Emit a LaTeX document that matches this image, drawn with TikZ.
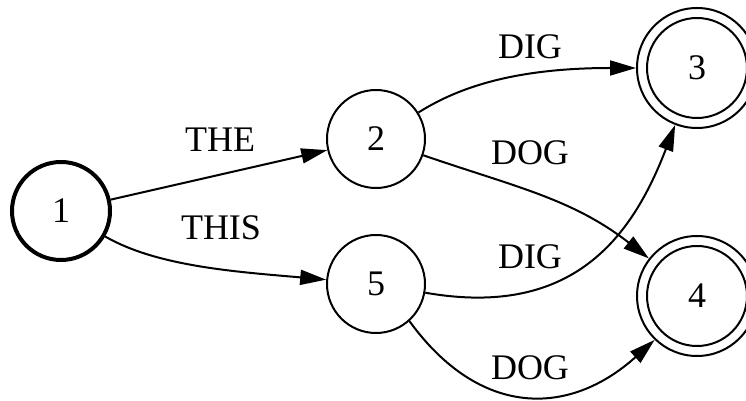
\documentclass[tikz,border=0pt]{standalone}
\usepackage{fontspec}
\setmainfont{Liberation Serif}
\usetikzlibrary{arrows.meta}
\begin{document}
\begin{tikzpicture}[x=1pt,y=1pt,
  every node/.style={font=\fontsize{36}{40}\selectfont, inner sep=0pt},
  state/.style={circle, draw, line width=2pt, minimum size=98pt},
  startstate/.style={state, line width=4pt},
  finalouter/.style={circle, draw, line width=2pt, minimum size=120pt},
  finalinner/.style={circle, draw, line width=2pt, minimum size=100pt},
  edge/.style={line width=2pt, -{Triangle[length=26pt,width=15pt]}},
  lbl/.style={}]
\useasboundingbox (0,0) rectangle (746,401);
\clip (0,0) rectangle (746,401);
\node[startstate] (n1) at (61,190) {1};
\node[state] (n2) at (376,262) {2};
\node[state] (n5) at (376,117) {5};
\node[finalouter] (n3) at (697,333) {};
\node[finalinner] (n3i) at (697,333) {3};
\node[finalouter] (n4) at (697,105) {};
\node[finalinner] (n4i) at (697,105) {4};

\draw[edge] (n1) -- (n2);
\draw[edge] (n1.-30) .. controls +(-30:60) and +(175:90) .. (n5.175);
\draw[edge] (n2.32) .. controls +(32:40) and +(180:130) .. (n3.180);
\draw[edge] (n2.-19) to[out=-19,in=142] (n4.142);
\draw[edge] (n5.-10) .. controls +(-10:150) and +(249:120) .. (n3.249);
\draw[edge] (n5.-48) .. controls +(-54:120) and +(222:115) .. (n4.226);

\node[lbl] (l12) at (220,261) {THE};
\node[lbl] (l15) at (221,173) {THIS};
\node[lbl] (l23) at (530,354) {DIG};
\node[lbl] (l24) at (530,248) {DOG};
\node[lbl] (l53) at (530,144) {DIG};
\node[lbl] (l54) at (530,33) {DOG};
\end{tikzpicture}
\end{document}
